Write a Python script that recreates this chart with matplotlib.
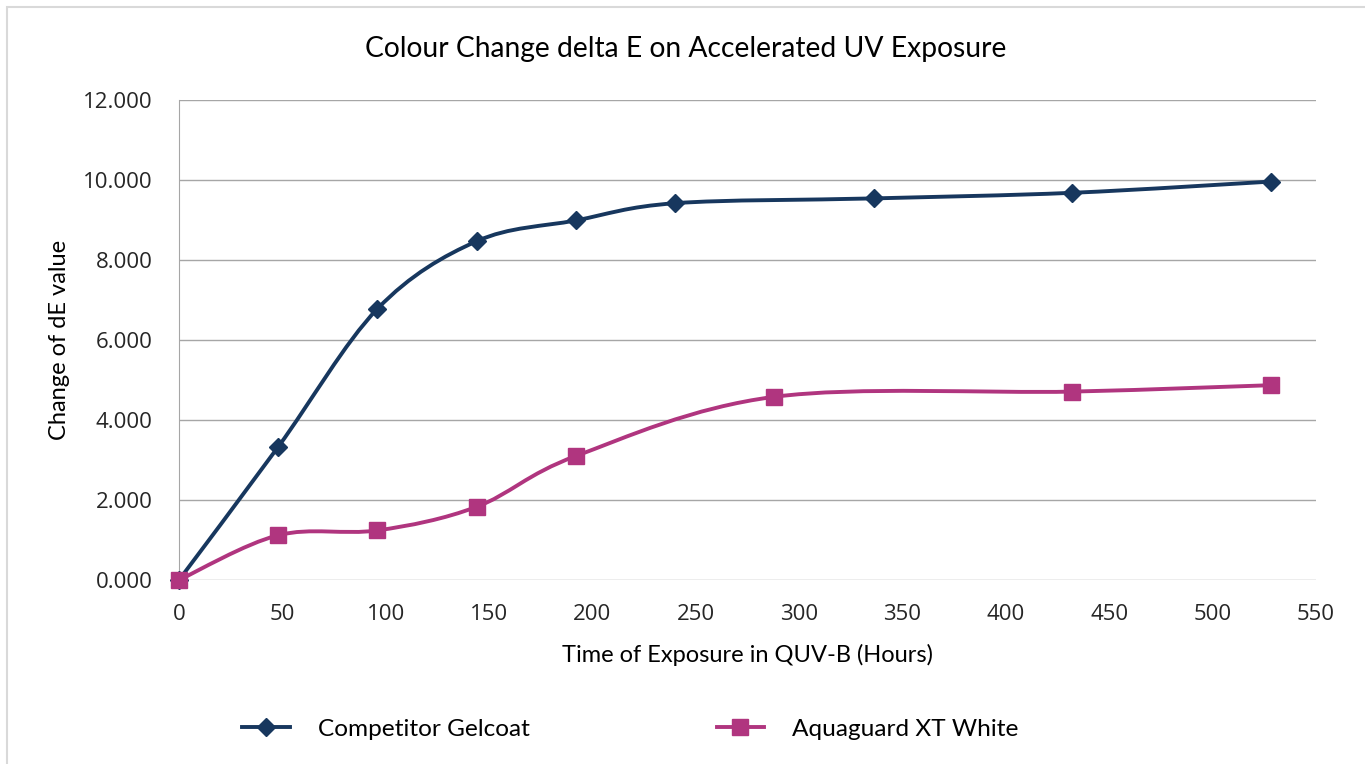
import numpy as np
import matplotlib
matplotlib.use("Agg")
import matplotlib.pyplot as plt
from matplotlib.path import Path
from matplotlib.patches import PathPatch, Rectangle
from matplotlib.lines import Line2D
import matplotlib.ticker as ticker

# data
hours_comp = [0, 48, 96, 144, 192, 240, 336, 432, 528]
de_comp = [0.0, 3.33, 6.78, 8.47, 8.99, 9.42, 9.54, 9.68, 9.96]
hours_aqua = [0, 48, 96, 144, 192, 288, 432, 528]
de_aqua = [0.0, 1.12, 1.24, 1.83, 3.10, 4.58, 4.71, 4.87]

navy = "#17375e"
magenta = "#b0357f"
grid_col = "#a6a6a6"
label_font = ["Lato", "DejaVu Sans"]
tick_font = ["Open Sans", "DejaVu Sans"]


def smooth_path(xs, ys):
    # excel style smoothed line: cubic bezier, control points from neighbours
    pts = np.column_stack([xs, ys]).astype(float)
    n = len(pts)
    verts = [pts[0]]
    codes = [Path.MOVETO]
    for i in range(n - 1):
        p0 = pts[i - 1] if i > 0 else pts[i]
        p1 = pts[i]
        p2 = pts[i + 1]
        p3 = pts[i + 2] if i + 2 < n else pts[i + 1]
        c1 = p1 + (p2 - p0) / 6.0
        c2 = p2 - (p3 - p1) / 6.0
        verts += [c1, c2, p2]
        codes += [Path.CURVE4] * 3
    return Path(verts, codes)


fig = plt.figure(figsize=(13.65, 7.64), dpi=100)
fig.patches.append(Rectangle((6.5 / 1365, -0.01), 1.02, (764 - 7) / 764 + 0.01,
                             transform=fig.transFigure, fill=False,
                             edgecolor="#d9d9d9", lw=1.5))

ax = fig.add_axes([179 / 1365, (764 - 580) / 764, 1137 / 1365, 480 / 764])

for xs, ys, col, mk, ms in [(hours_comp, de_comp, navy, "D", 9),
                            (hours_aqua, de_aqua, magenta, "s", 11)]:
    ax.add_patch(PathPatch(smooth_path(xs, ys), fill=False, edgecolor=col,
                           lw=2.8, capstyle="round", joinstyle="round", zorder=3))
    ax.plot(xs, ys, ls="none", marker=mk, ms=ms, color=col, zorder=4, clip_on=False)

ax.set_xlim(0, 550)
ax.set_ylim(0, 12)
ax.xaxis.set_major_locator(ticker.MultipleLocator(50))
ax.yaxis.set_major_locator(ticker.MultipleLocator(2))
ax.yaxis.set_major_formatter(ticker.StrMethodFormatter("{x:.3f}"))
ax.grid(axis="y", color=grid_col, lw=1)
ax.set_axisbelow(True)
for s in ["top", "right", "bottom"]:
    ax.spines[s].set_visible(False)
ax.spines["left"].set_color(grid_col)
ax.tick_params(length=0, labelsize=16, labelcolor="#262626")
ax.tick_params(axis="x", pad=17)
ax.tick_params(axis="y", pad=19)
for lab in ax.get_xticklabels() + ax.get_yticklabels():
    lab.set_family(tick_font)

ax.set_xlabel("Time of Exposure in QUV-B (Hours)", family=label_font, fontsize=17, labelpad=14)
ax.set_ylabel("Change of dE value", family=label_font, fontsize=17, labelpad=9)
fig.text(686 / 1365, 1 - 49 / 764, "Colour Change delta E on Accelerated UV Exposure",
         family=label_font, fontsize=20.3, ha="center", va="center")

handles = [Line2D([], [], color=navy, lw=2.8, marker="D", ms=9),
           Line2D([], [], color=magenta, lw=2.8, marker="s", ms=11)]
fig.legend(handles, ["Competitor Gelcoat", "Aquaguard XT White"],
           loc="center left", bbox_to_anchor=(220 / 1365, 1 - 729 / 764), ncol=2,
           frameon=False, prop={"family": label_font, "size": 17.6},
           handlelength=1.95, handletextpad=1.15, columnspacing=7.65)

fig.savefig("out.png", dpi=100)
